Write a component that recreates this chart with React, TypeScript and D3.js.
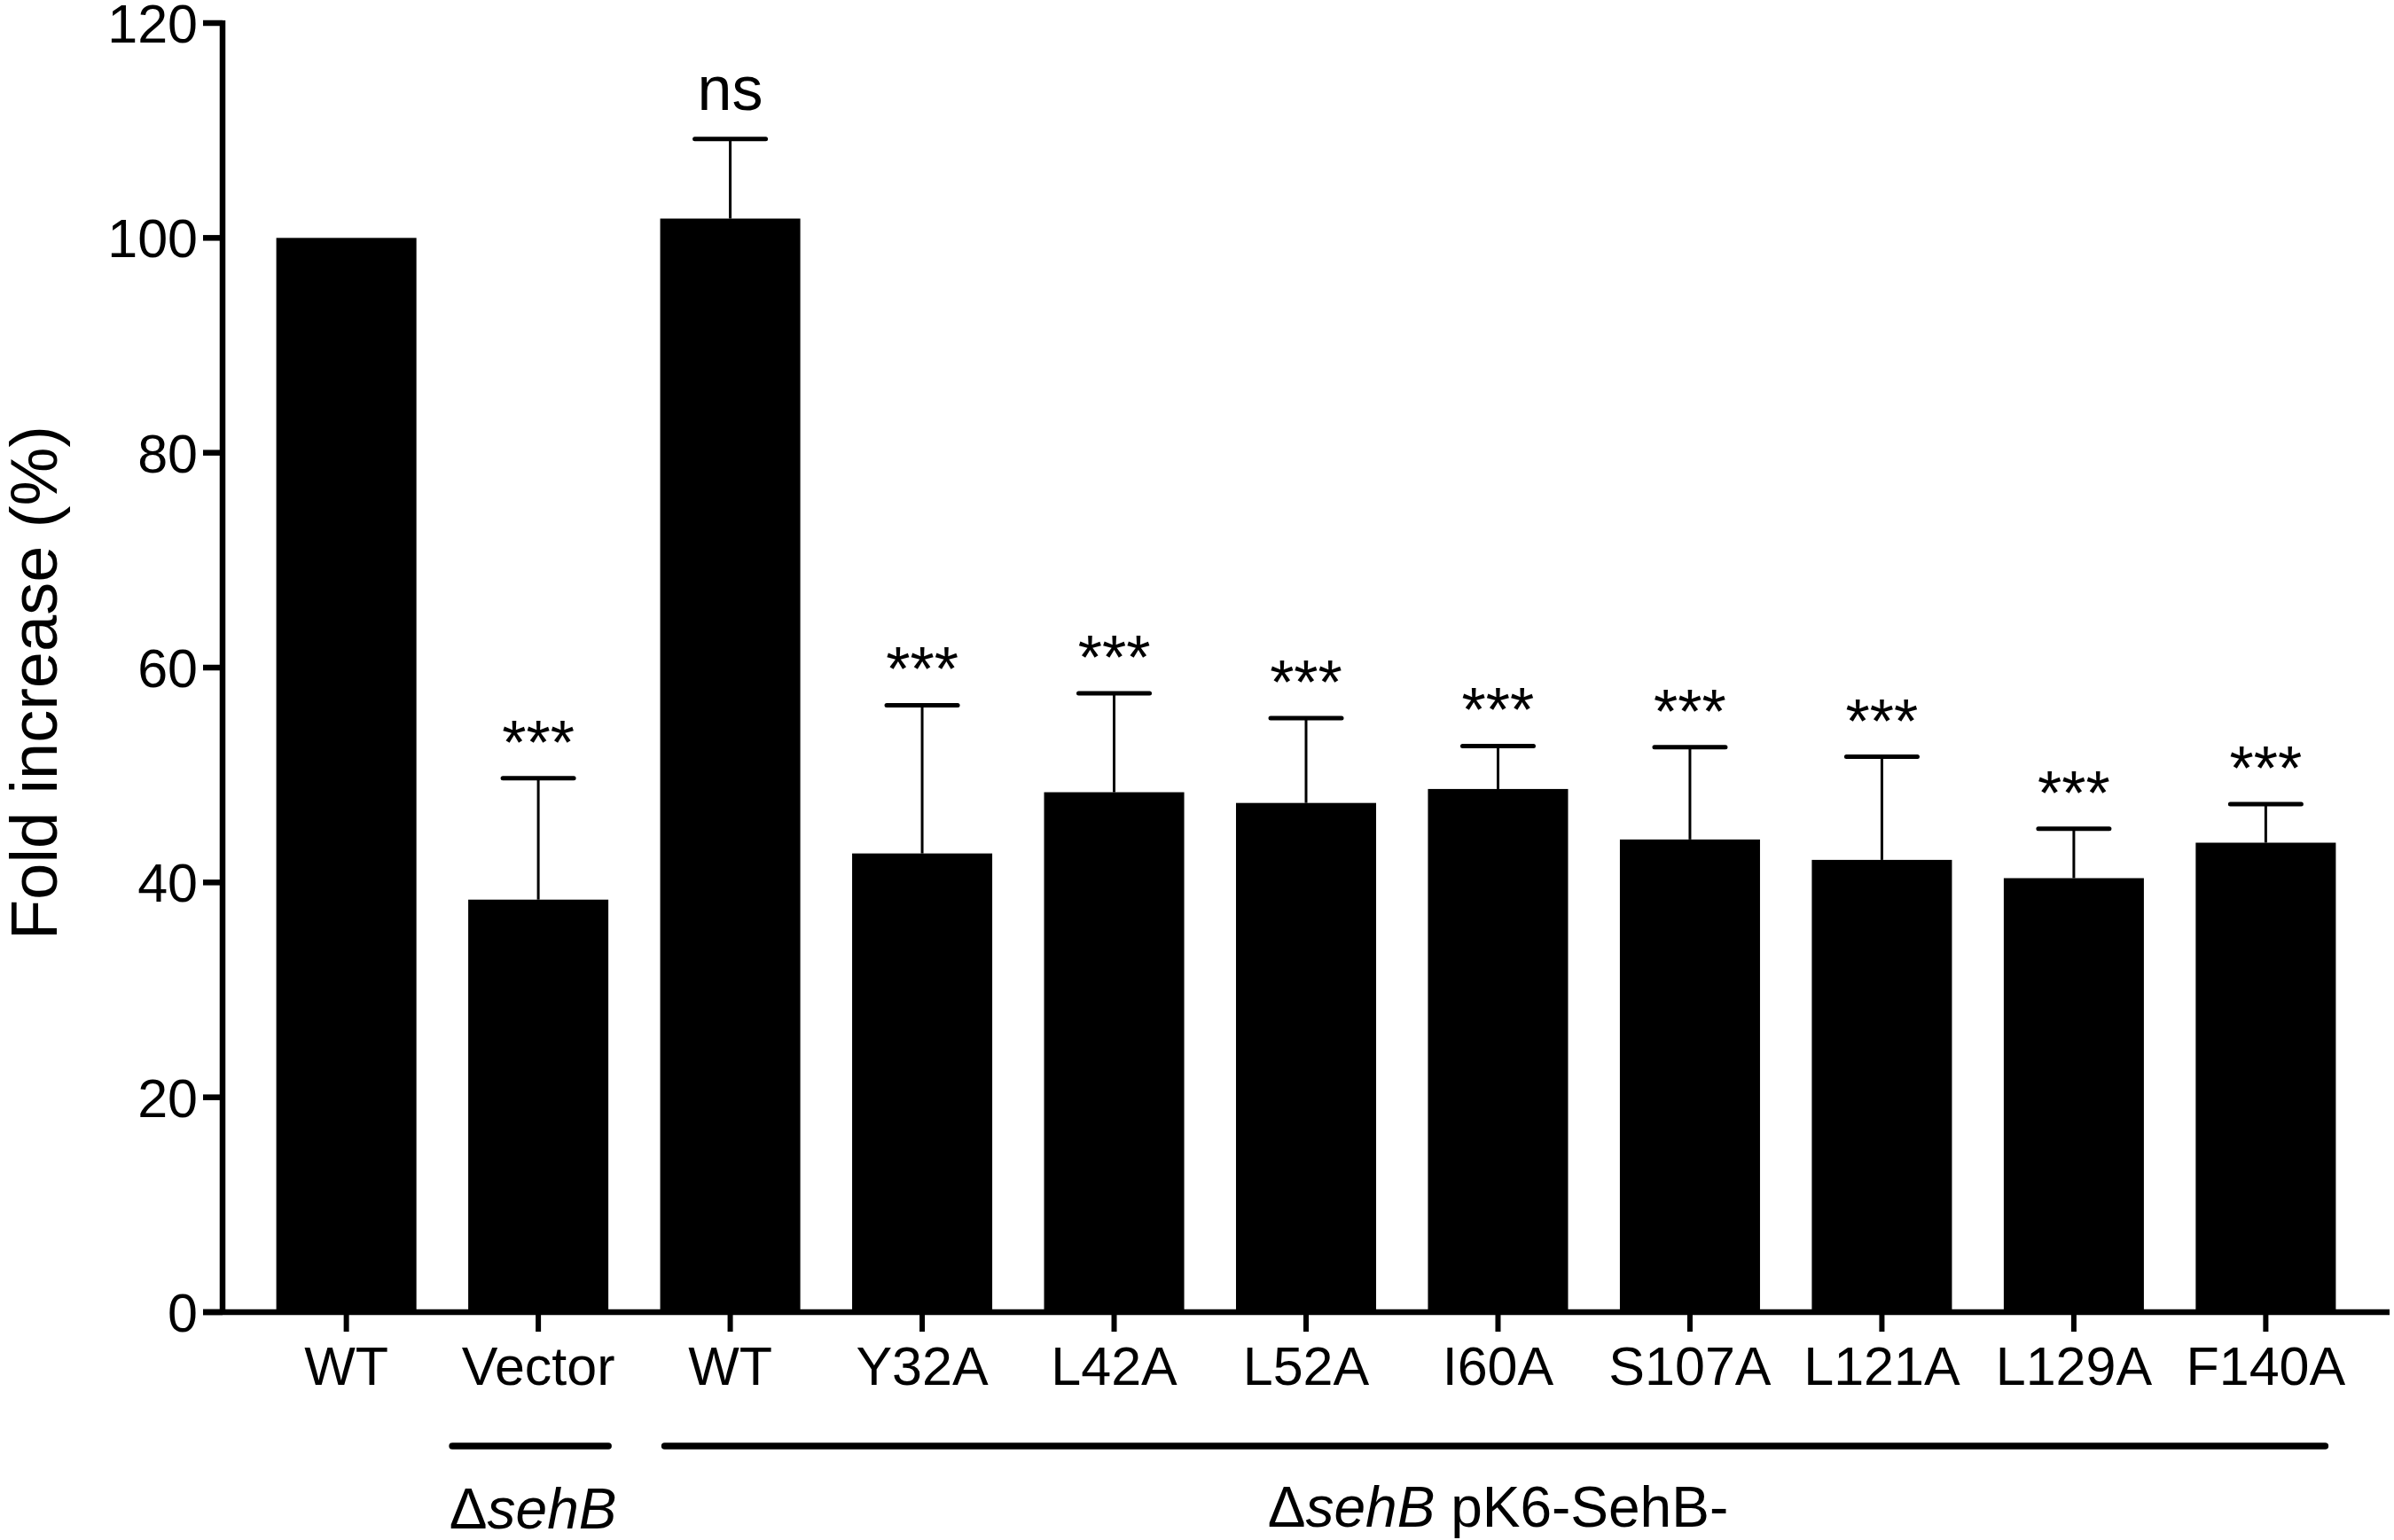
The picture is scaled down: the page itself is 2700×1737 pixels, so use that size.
import React from 'react'
import * as d3 from 'd3'

// values
const categories: string[] = ['WT', 'Vector', 'WT', 'Y32A', 'L42A', 'L52A', 'I60A', 'S107A', 'L121A', 'L129A', 'F140A']
const means: number[] = [100, 38.4, 101.8, 42.7, 48.4, 47.4, 48.7, 44.0, 42.1, 40.4, 43.7]
const errors: number[] = [0, 11.3, 7.4, 13.8, 9.2, 7.9, 4.0, 8.6, 9.6, 4.6, 3.6]
const signif: string[] = ['', '***', 'ns', '***', '***', '***', '***', '***', '***', '***', '***']
const yTicks: number[] = [0, 20, 40, 60, 80, 100, 120]

const W = 2700
const H = 1737
const FONT = '"Liberation Sans", Arial, Helvetica, sans-serif'

export default function App() {
  const x0 = 251
  const x1 = 2695
  const yBottom = 1480
  const yTop = 26

  const x = d3.scaleBand<number>()
    .domain(categories.map((_, i) => i))
    .range([x0, x1])
    .paddingInner(0.27)
    .paddingOuter(0.28)

  const y = d3.scaleLinear().domain([0, 120]).range([yBottom, yTop])

  const bw = x.bandwidth()
  const cx = (i: number) => (x(i) ?? 0) + bw / 2
  const capHalf = 40

  return (
    <svg width={W} height={H} style={{ position: 'absolute', left: 0, top: 0, background: '#fff' }}
      fontFamily={FONT}>
      {/* barras */}
      {means.map((m, i) => (
        <rect key={'b' + i} x={x(i)} y={y(m)} width={bw} height={yBottom - y(m)} fill="#000" />
      ))}

      {/* barras de error (solo hacia arriba) */}
      {means.map((m, i) => errors[i] > 0 ? (
        <g key={'e' + i} stroke="#000">
          <line x1={cx(i)} x2={cx(i)} y1={y(m)} y2={y(m + errors[i])} strokeWidth={3} />
          <line x1={cx(i) - capHalf} x2={cx(i) + capHalf} y1={y(m + errors[i])} y2={y(m + errors[i])}
            strokeWidth={5} strokeLinecap="round" />
        </g>
      ) : null)}

      {/* significancia */}
      {signif.map((s, i) => s ? (
        <text key={'s' + i} x={cx(i)} y={y(means[i] + errors[i]) - (s === 'ns' ? 33 : 16)}
          textAnchor="middle" fontSize={70}>{s}</text>
      ) : null)}

      {/* eje Y */}
      <line x1={x0} x2={x0} y1={yTop - 3} y2={yBottom + 3} stroke="#000" strokeWidth={6.5} />
      {yTicks.map(t => (
        <g key={'yt' + t}>
          <line x1={x0 - 22} x2={x0} y1={y(t)} y2={y(t)} stroke="#000" strokeWidth={6.5} />
          <text x={223} y={y(t)} dy="0.36em" textAnchor="end" fontSize={61}>{t}</text>
        </g>
      ))}

      {/* eje X */}
      <line x1={x0 - 22} x2={x1} y1={yBottom} y2={yBottom} stroke="#000" strokeWidth={6.5} />
      {categories.map((c, i) => (
        <g key={'xt' + i}>
          <line x1={cx(i)} x2={cx(i)} y1={yBottom} y2={yBottom + 22} stroke="#000" strokeWidth={6} />
          <text x={cx(i)} y={1562} textAnchor="middle" fontSize={61}>{c}</text>
        </g>
      ))}

      {/* titulo eje Y */}
      <text transform={`translate(64, ${(yTop + yBottom) / 2 + 17}) rotate(-90)`} textAnchor="middle"
        fontSize={74}>Fold increase (%)</text>

      {/* grupos */}
      <line x1={(x(1) ?? 0) - 18} x2={(x(1) ?? 0) + bw} y1={1631} y2={1631}
        stroke="#000" strokeWidth={7.5} strokeLinecap="round" />
      <text x={cx(1) - 6} y={1724} textAnchor="middle" fontSize={64}>
        Δ<tspan fontStyle="italic">sehB</tspan>
      </text>

      <line x1={(x(2) ?? 0) + 5} x2={(x(10) ?? 0) + bw - 12} y1={1631} y2={1631}
        stroke="#000" strokeWidth={7.5} strokeLinecap="round" />
      <text x={((x(2) ?? 0) + (x(10) ?? 0) + bw) / 2} y={1722} textAnchor="middle" fontSize={64}>
        Δ<tspan fontStyle="italic">sehB</tspan> pK6-SehB-
      </text>
    </svg>
  )
}
